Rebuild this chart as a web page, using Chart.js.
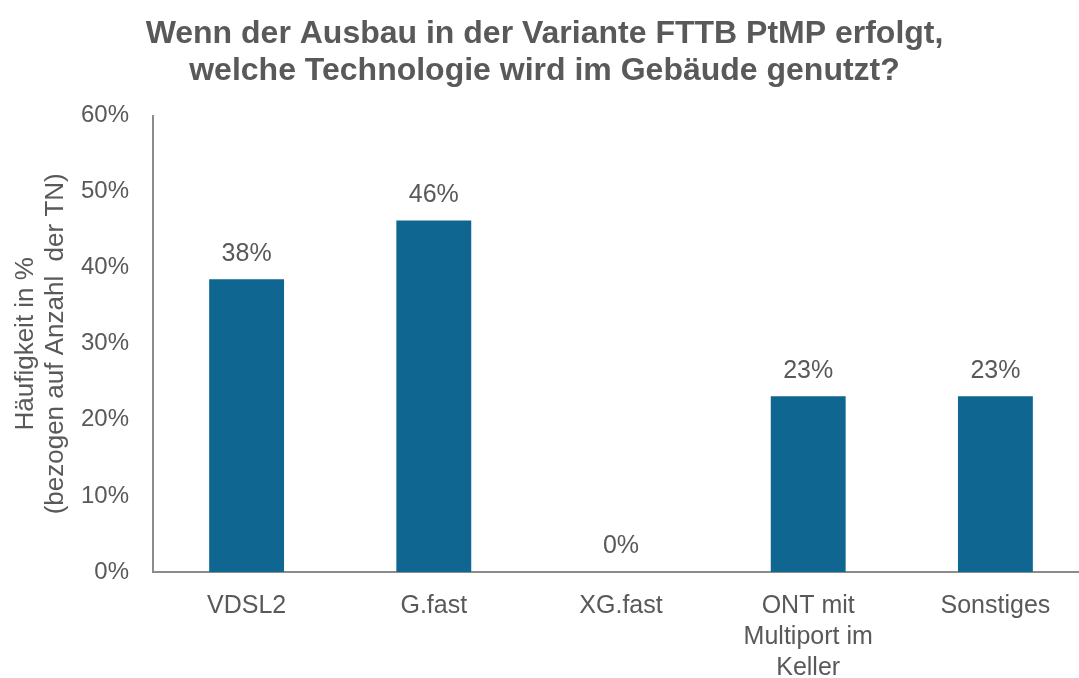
<!DOCTYPE html>
<html lang="de">
<head>
<meta charset="utf-8">
<script src="https://cdn.jsdelivr.net/npm/chart.js@4.4.1/dist/chart.umd.min.js"></script>
<style>
  html, body { margin: 0; padding: 0; background: #fff; overflow: hidden; }
  #wrap { width: 1095px; height: 678px; }
</style>
</head>
<body>
<div id="wrap"><canvas id="c"></canvas></div>
<script>
// Daten
const kategorien = ["VDSL2", "G.fast", "XG.fast", ["ONT mit", "Multiport im", "Keller"], "Sonstiges"];
const anteile = [38.5, 46.2, 0, 23.1, 23.1];
const labelsOben = ["38%", "46%", "0%", "23%", "23%"];
const yTicks = [0, 10, 20, 30, 40, 50, 60];

const grau = "#595959";
const achse = "#8c8c8c";
const blau = "#0f6690";
const font = "'Liberation Sans', Arial, sans-serif";

// Werte über den Balken
const balkenLabels = {
  id: "balkenLabels",
  afterDatasetsDraw(chart){
    const ctx = chart.ctx;
    const meta = chart.getDatasetMeta(0);
    ctx.save();
    ctx.font = "25px " + font;
    ctx.fillStyle = grau;
    ctx.textAlign = "center";
    ctx.textBaseline = "bottom";
    meta.data.forEach((bar, i)=>{
      ctx.fillText(labelsOben[i], bar.x, bar.y - 13);
    });
    ctx.restore();
  }
};

new Chart(document.getElementById("c"), {
  type: "bar",
  data: {
    labels: kategorien,
    datasets: [{ data: anteile, backgroundColor: blau, barPercentage: 0.4, categoryPercentage: 1 }]
  },
  options: {
    responsive: true,
    maintainAspectRatio: false,
    animation: false,
    layout: { padding: { left: 0, right: 6, top: 10, bottom: 0 } },
    plugins: {
      legend: { display: false },
      tooltip: { enabled: false },
      title: {
        display: true,
        text: ["Wenn der Ausbau in der Variante FTTB PtMP erfolgt,", "welche Technologie wird im Gebäude genutzt?"],
        color: grau,
        font: { family: font, size: 32, weight: "bold", lineHeight: 1.15 },
        padding: { top: 6, bottom: 26 }
      }
    },
    scales: {
      x: {
        grid: { display: false, drawTicks: false },
        border: { display: true, color: achse, width: 2 },
        ticks: { color: grau, font: { family: font, size: 25, lineHeight: 1.25 }, padding: 18, maxRotation: 0, autoSkip: false },
        afterFit: (s)=>{ s.height = 106; }
      },
      y: {
        min: 0, max: 60,
        afterBuildTicks: (s)=>{ s.ticks = yTicks.map(v=>({ value: v })); },
        afterFit: (s)=>{ s.width = 153; },
        grid: { display: false, drawTicks: false },
        border: { display: true, color: achse, width: 2 },
        ticks: { color: grau, font: { family: font, size: 24 }, padding: 24, callback: v => v + "%" },
        title: {
          display: true,
          text: ["Häufigkeit in %", "(bezogen auf Anzahl  der TN)"],
          color: grau,
          font: { family: font, size: 26, lineHeight: 1.15 },
          padding: { top: 11, bottom: 0 }
        }
      }
    }
  },
  plugins: [balkenLabels]
});
</script>
</body>
</html>
